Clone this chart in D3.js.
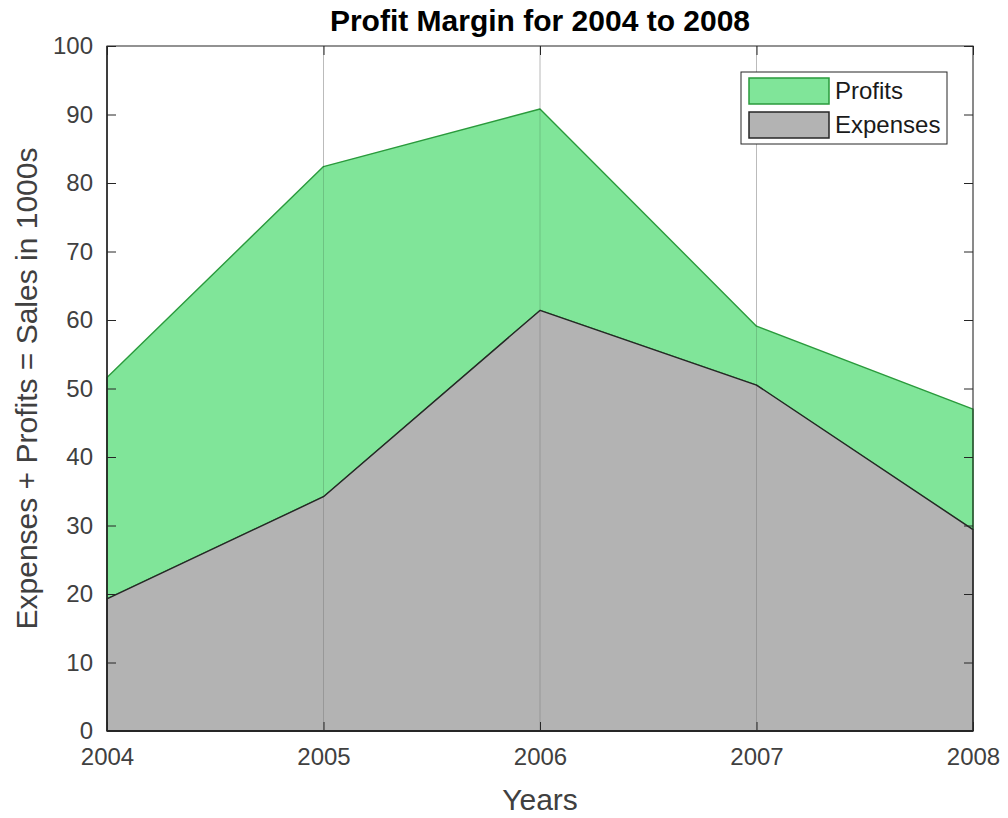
<!DOCTYPE html>
<html>
<head>
<meta charset="utf-8">
<script src="https://cdn.jsdelivr.net/npm/d3@7/dist/d3.min.js"></script>
<style>
  body { margin: 0; background: #fff; }
  svg text { font-family: "Liberation Sans", Arial, Helvetica, sans-serif; }
</style>
</head>
<body>
<svg id="chart" width="1008" height="818"></svg>
<script>
// Sales figures (in 1000s) per year
const years = [2004, 2005, 2006, 2007, 2008];
const sales = [51.6, 82.4, 90.8, 59.1, 47.0];
const expenses = [19.3, 34.2, 61.4, 50.5, 29.4];
const profits = sales.map((s, i) => s - expenses[i]);
const yTicks = [0, 10, 20, 30, 40, 50, 60, 70, 80, 90, 100];
const seriesNames = ["Expenses", "Profits"];

const svg = d3.select("#chart");
const plotLeft = 107, plotRight = 973, plotTop = 46, plotBottom = 731;

const x = d3.scaleLinear().domain([2004, 2008]).range([plotLeft, plotRight]);
const y = d3.scaleLinear().domain([0, 100]).range([plotBottom, plotTop]);

const rows = years.map((yr, i) => ({ year: yr, Expenses: expenses[i], Profits: profits[i] }));
const stacked = d3.stack().keys(seriesNames)(rows);

const fills = { Expenses: "#b3b3b3", Profits: "#80e599" };
const edges = { Expenses: "#262626", Profits: "#2a9a3c" };

// vertical grid lines at each year
svg.append("g").selectAll("line")
  .data(years)
  .join("line")
  .attr("x1", d => x(d)).attr("x2", d => x(d))
  .attr("y1", plotTop).attr("y2", plotBottom)
  .attr("stroke", "#dcdcdc").attr("stroke-width", 1);

// stacked areas; the upper layer is painted first so the expenses edge stays on top
const area = d3.area()
  .x(d => x(d.data.year))
  .y0(d => y(d[0]))
  .y1(d => y(d[1]));

svg.append("g").selectAll("path")
  .data(stacked.slice().reverse())
  .join("path")
  .attr("d", area)
  .attr("fill", d => fills[d.key])
  .attr("stroke", d => edges[d.key])
  .attr("stroke-width", 1.4)
  .attr("stroke-linejoin", "round");

// grid lines drawn over the filled areas (faint)
svg.append("g").selectAll("line")
  .data(years.slice(1, -1))
  .join("line")
  .attr("x1", d => x(d)).attr("x2", d => x(d))
  .attr("y1", plotTop).attr("y2", plotBottom)
  .attr("stroke", "#000").attr("stroke-opacity", 0.15).attr("stroke-width", 1);

// axes with inward ticks
const tickColor = "#262626";
const tickLen = 9;
const yLeft = d3.axisLeft(y).tickValues(yTicks).tickSize(-tickLen).tickPadding(14);
const yRight = d3.axisRight(y).tickValues(yTicks).tickSize(-tickLen).tickFormat("");
const xBottom = d3.axisBottom(x).tickValues(years).tickSize(-tickLen).tickPadding(17).tickFormat(d3.format("d"));
const xTop = d3.axisTop(x).tickValues(years).tickSize(-tickLen).tickFormat("");

function styleAxis(g) {
  g.select(".domain").remove();
  g.selectAll(".tick line").attr("stroke", tickColor);
  g.selectAll(".tick text").attr("fill", "#404040").style("font-size", "24px");
}

svg.append("g").attr("transform", `translate(${plotLeft},0)`).call(yLeft).call(styleAxis);
svg.append("g").attr("transform", `translate(${plotRight},0)`).call(yRight).call(styleAxis);
svg.append("g").attr("transform", `translate(0,${plotBottom})`).call(xBottom).call(styleAxis);
svg.append("g").attr("transform", `translate(0,${plotTop})`).call(xTop).call(styleAxis);

// axes box
svg.append("rect")
  .attr("x", plotLeft).attr("y", plotTop)
  .attr("width", plotRight - plotLeft).attr("height", plotBottom - plotTop)
  .attr("fill", "none").attr("stroke", tickColor).attr("stroke-width", 1);
svg.append("line")
  .attr("x1", plotLeft).attr("x2", plotRight).attr("y1", plotBottom).attr("y2", plotBottom)
  .attr("stroke", "#262626").attr("stroke-width", 2);
svg.append("line")
  .attr("x1", plotLeft).attr("x2", plotLeft).attr("y1", plotTop).attr("y2", plotBottom)
  .attr("stroke", "#262626").attr("stroke-width", 1.5);

// title and axis labels
svg.append("text")
  .attr("x", (plotLeft + plotRight) / 2).attr("y", 31)
  .attr("text-anchor", "middle")
  .style("font-size", "30px").style("font-weight", "bold").attr("fill", "#000")
  .text("Profit Margin for 2004 to 2008");

svg.append("text")
  .attr("x", (plotLeft + plotRight) / 2).attr("y", 810)
  .attr("text-anchor", "middle")
  .style("font-size", "30px").attr("fill", "#404040")
  .text("Years");

svg.append("text")
  .attr("transform", `translate(37,${(plotTop + plotBottom) / 2}) rotate(-90)`)
  .attr("text-anchor", "middle")
  .style("font-size", "30px").attr("fill", "#404040")
  .text("Expenses + Profits = Sales in 1000s");

// legend
const legend = svg.append("g").attr("transform", "translate(741,72)");
legend.append("rect")
  .attr("width", 206).attr("height", 72)
  .attr("fill", "#fff").attr("stroke", "#262626").attr("stroke-width", 1);
const legendItems = ["Profits", "Expenses"];
legendItems.forEach((name, i) => {
  const gy = 6 + i * 34;
  legend.append("rect")
    .attr("x", 8).attr("y", gy).attr("width", 80).attr("height", 26)
    .attr("fill", fills[name]).attr("stroke", edges[name]).attr("stroke-width", 1.5);
  legend.append("text")
    .attr("x", 94).attr("y", gy + 21)
    .style("font-size", "24px").attr("fill", "#1a1a1a")
    .text(name);
});
</script>
</body>
</html>
